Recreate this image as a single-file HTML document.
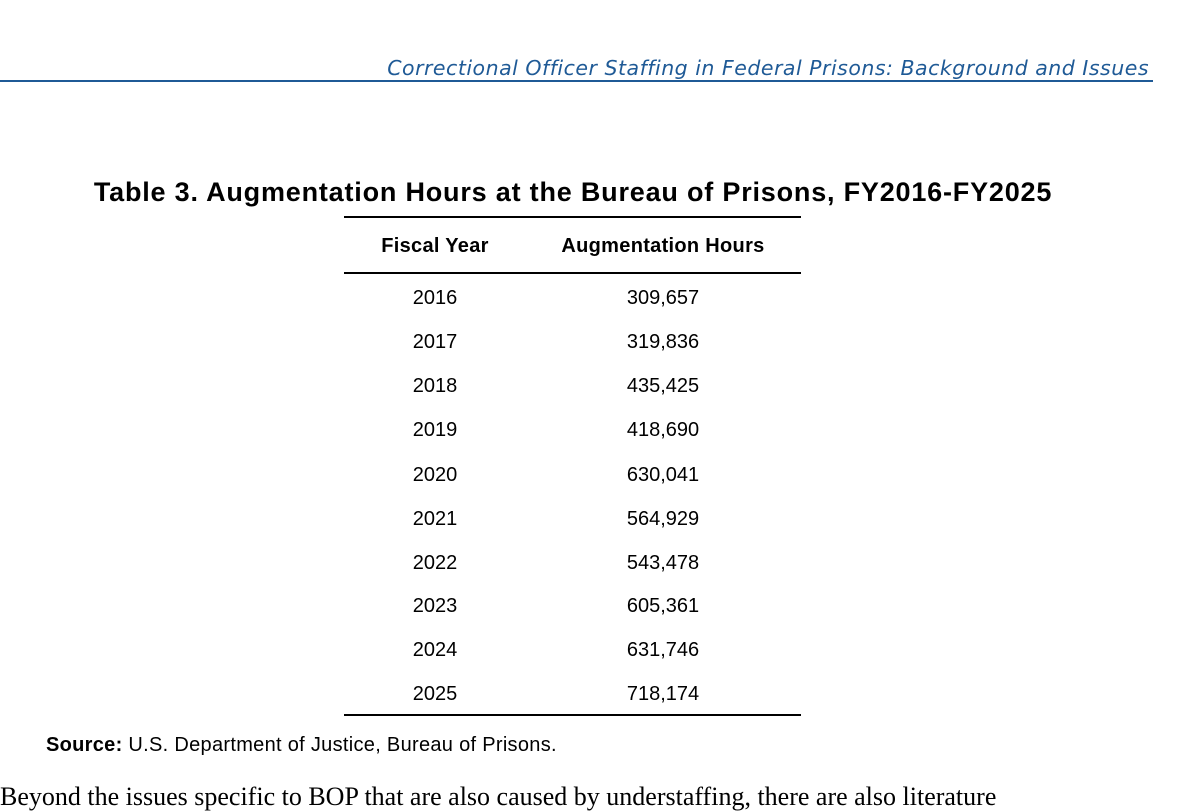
<!DOCTYPE html>
<html><head><style>
body{margin:0;width:1192px;height:788px;overflow:hidden;background:#fff;position:relative;font-family:"Liberation Sans",sans-serif;color:#000}
.a{position:absolute;white-space:nowrap}
.hdr{right:43px;top:56px;font-family:"DejaVu Sans",sans-serif;font-style:italic;font-size:20.5px;color:#1f5a96;letter-spacing:0.5px}
.hl{left:0;top:80px;width:1153px;height:2px;background:#1f5a96}
.title{left:0;width:1146px;text-align:center;top:177px;font-weight:bold;font-size:27px;letter-spacing:0.8px}
.rule{left:344px;width:457px;height:2px;background:#000}
.c1{left:360px;width:150px;text-align:center}
.c2{left:540px;width:246px;text-align:center}
.h{top:235px;font-weight:bold;font-size:20px;letter-spacing:0.3px}
.r{font-size:20px}
</style></head><body>
<div class="a hdr">Correctional Officer Staffing in Federal Prisons: Background and Issues</div>
<div class="a hl"></div>
<div class="a title">Table 3. Augmentation Hours at the Bureau of Prisons, FY2016-FY2025</div>
<div class="a rule" style="top:216px"></div>
<div class="a c1 h">Fiscal Year</div>
<div class="a c2 h">Augmentation Hours</div>
<div class="a rule" style="top:272px"></div>
<div class="a c1 r" style="top:287px">2016</div><div class="a c2 r" style="top:287px">309,657</div>
<div class="a c1 r" style="top:331px">2017</div><div class="a c2 r" style="top:331px">319,836</div>
<div class="a c1 r" style="top:375px">2018</div><div class="a c2 r" style="top:375px">435,425</div>
<div class="a c1 r" style="top:419px">2019</div><div class="a c2 r" style="top:419px">418,690</div>
<div class="a c1 r" style="top:464px">2020</div><div class="a c2 r" style="top:464px">630,041</div>
<div class="a c1 r" style="top:508px">2021</div><div class="a c2 r" style="top:508px">564,929</div>
<div class="a c1 r" style="top:552px">2022</div><div class="a c2 r" style="top:552px">543,478</div>
<div class="a c1 r" style="top:595px">2023</div><div class="a c2 r" style="top:595px">605,361</div>
<div class="a c1 r" style="top:639px">2024</div><div class="a c2 r" style="top:639px">631,746</div>
<div class="a c1 r" style="top:683px">2025</div><div class="a c2 r" style="top:683px">718,174</div>
<div class="a rule" style="top:714px"></div>
<div class="a" style="left:46px;top:734px;font-size:20px;letter-spacing:0.3px"><b>Source:</b> U.S. Department of Justice, Bureau of Prisons.</div>
<div class="a" style="left:0;top:782px;font-family:'Liberation Serif',serif;font-size:26px">Beyond the issues specific to BOP that are also caused by understaffing, there are also literature</div>
</body></html>
